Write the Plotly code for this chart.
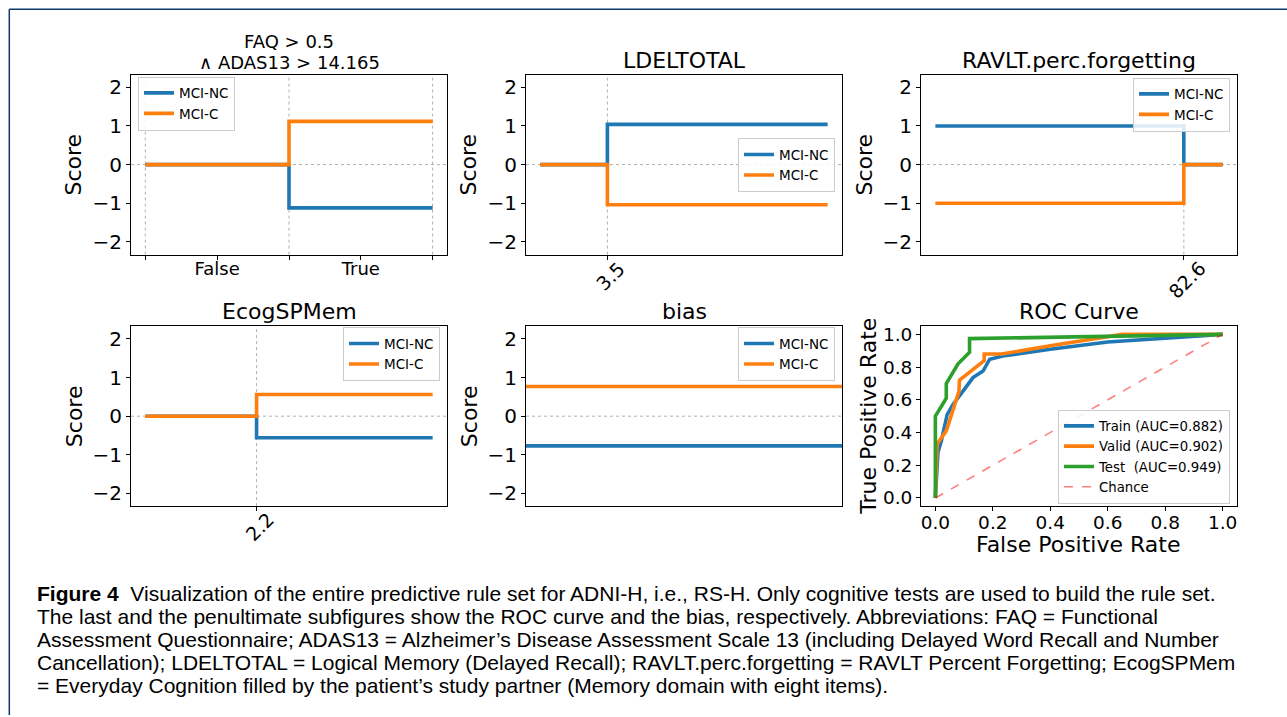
import plotly.graph_objects as go

W, H = 1287, 717
BLUE = '#1f77b4'
ORANGE = '#ff7f0e'
GREEN = '#2ca02c'
FONT = 'DejaVu Sans'
CAP_FONT = 'Liberation Sans'

# ---------------- data ----------------
faq_x = [0, 2, 4]
faq_nc = [0, -1.12, -1.12]
faq_c = [0, 1.12, 1.12]
faq_tickvals = [0, 1, 2, 3, 4]
faq_ticktext = ['', 'False', '', 'True', '']
faq_grid = [0, 2, 4]

ldel_x = [0, 3.5, 15]
ldel_nc = [0, 1.04, 1.04]
ldel_c = [0, -1.04, -1.04]
ldel_thr = [3.5]

ravlt_x = [0, 82.6, 95.5]
ravlt_nc = [1.0, 0, 0]
ravlt_c = [-1.0, 0, 0]
ravlt_thr = [82.6]

ecog_x = [1.0, 2.2, 4.1]
ecog_nc = [0, -0.56, -0.56]
ecog_c = [0, 0.56, 0.56]
ecog_thr = [2.2]

bias_x = [0, 1]
bias_nc = [-0.77, -0.77]
bias_c = [0.77, 0.77]

train_fpr = [0, 0.009, 0.021, 0.041, 0.061, 0.131, 0.166, 0.189, 0.235, 0.4, 0.6, 0.8, 1.0]
train_tpr = [0, 0.28, 0.35, 0.51, 0.57, 0.736, 0.776, 0.848, 0.868, 0.909, 0.953, 0.974, 1.0]
valid_fpr = [0, 0.006, 0.038, 0.065, 0.082, 0.084, 0.17, 0.17, 0.23, 0.4, 0.65, 1.0]
valid_tpr = [0, 0.33, 0.41, 0.55, 0.65, 0.72, 0.84, 0.88, 0.88, 0.93, 1.0, 1.0]
test_fpr = [0, 0, 0.038, 0.038, 0.079, 0.119, 0.119, 1.0]
test_tpr = [0, 0.5, 0.61, 0.70, 0.82, 0.89, 0.974, 1.0]
chance = [0, 1]
roc_names = ['Train (AUC=0.882)', 'Valid (AUC=0.902)', 'Test\u00a0 (AUC=0.949)', 'Chance']

score_ticks = [-2, -1, 0, 1, 2]
roc_ticks = [0, 0.2, 0.4, 0.6, 0.8, 1.0]

caption_lines = [
    '<b>Figure 4</b>  Visualization of the entire predictive rule set for ADNI-H, i.e., RS-H. Only cognitive tests are used to build the rule set.',
    'The last and the penultimate subfigures show the ROC curve and the bias, respectively. Abbreviations: FAQ = Functional',
    'Assessment Questionnaire; ADAS13 = Alzheimer\u2019s Disease Assessment Scale 13 (including Delayed Word Recall and Number',
    'Cancellation); LDELTOTAL = Logical Memory (Delayed Recall); RAVLT.perc.forgetting = RAVLT Percent Forgetting; EcogSPMem',
    '= Everyday Cognition filled by the patient\u2019s study partner (Memory domain with eight items).',
]

# ---------------- layout helpers ----------------
def px_x(p):
    return p / W

def px_y(p):
    return 1 - p / H

cols = [(131, 447), (526, 842), (921, 1237)]
rows = [(73, 254), (326, 507)]

fig = go.Figure()
LW = 3.6

def step_pair(i, x, nc, c, shape='hv'):
    leg = 'legend' if i == 1 else f'legend{i}'
    xa = 'x' if i == 1 else f'x{i}'
    ya = 'y' if i == 1 else f'y{i}'
    fig.add_trace(go.Scatter(x=x, y=nc, mode='lines', line=dict(color=BLUE, width=LW, shape=shape),
                             name='MCI-NC', legend=leg, xaxis=xa, yaxis=ya))
    fig.add_trace(go.Scatter(x=x, y=c, mode='lines', line=dict(color=ORANGE, width=LW, shape=shape),
                             name='MCI-C', legend=leg, xaxis=xa, yaxis=ya))

step_pair(1, faq_x, faq_nc, faq_c)
step_pair(2, ldel_x, ldel_nc, ldel_c)
step_pair(3, ravlt_x, ravlt_nc, ravlt_c)
step_pair(4, ecog_x, ecog_nc, ecog_c)
step_pair(5, bias_x, bias_nc, bias_c)

for fx, ty, col, nm in [(train_fpr, train_tpr, BLUE, roc_names[0]),
                        (valid_fpr, valid_tpr, ORANGE, roc_names[1]),
                        (test_fpr, test_tpr, GREEN, roc_names[2])]:
    fig.add_trace(go.Scatter(x=fx, y=ty, mode='lines', line=dict(color=col, width=LW),
                             name=nm, legend='legend6', xaxis='x6', yaxis='y6'))
fig.add_trace(go.Scatter(x=chance, y=chance, mode='lines',
                         line=dict(color='rgba(255,0,0,0.5)', width=1.6, dash='dash'),
                         name=roc_names[3], legend='legend6', xaxis='x6', yaxis='y6'))

axis_base = dict(showline=True, mirror=True, linecolor='black', linewidth=1, showgrid=False,
                 zeroline=False, ticks='outside', ticklen=4, tickcolor='black', tickwidth=1)

layout = dict(width=W, height=H, margin=dict(l=0, r=0, t=0, b=0),
              paper_bgcolor='white', plot_bgcolor='white',
              font=dict(family=FONT, color='black'))

def rng(xs):
    span = xs[-1] - xs[0]
    return [xs[0] - 0.05 * span, xs[-1] + 0.05 * span]

xcfg = {
    1: dict(range=rng(faq_x), tickvals=faq_tickvals, ticktext=faq_ticktext, tickfont=dict(size=18),
            ticklabelstandoff=-6),
    2: dict(range=rng(ldel_x), tickvals=ldel_thr, showticklabels=False),
    3: dict(range=rng(ravlt_x), tickvals=ravlt_thr, showticklabels=False),
    4: dict(range=rng(ecog_x), tickvals=ecog_thr, showticklabels=False),
    5: dict(range=[bias_x[0], bias_x[-1]], showticklabels=False, ticks=''),
    6: dict(range=[-0.05, 1.05], tickvals=roc_ticks, tickformat='.1f', tickfont=dict(size=18.5),
            ticklabelstandoff=-4),
}

for i in range(1, 7):
    r = 0 if i <= 3 else 1
    c = (i - 1) % 3
    x0, x1 = cols[c]
    y0, y1 = rows[r]
    xk = 'xaxis' if i == 1 else f'xaxis{i}'
    yk = 'yaxis' if i == 1 else f'yaxis{i}'
    xa = 'x' if i == 1 else f'x{i}'
    ya = 'y' if i == 1 else f'y{i}'
    xd = dict(axis_base, domain=[px_x(x0), px_x(x1)], anchor=ya)
    xd.update(xcfg[i])
    layout[xk] = xd
    if i < 6:
        yd = dict(axis_base, domain=[px_y(y1), px_y(y0)], anchor=xa, range=[-2.33, 2.33],
                  tickvals=score_ticks, tickfont=dict(size=20))
    else:
        yd = dict(axis_base, domain=[px_y(y1), px_y(y0)], anchor=xa, range=[-0.05, 1.05],
                  tickvals=roc_ticks, tickformat='.1f', tickfont=dict(size=18.5))
    layout[yk] = yd

# legends
leg_base = dict(bgcolor='rgba(255,255,255,0.85)', bordercolor='#cccccc', borderwidth=1,
                font=dict(family=FONT, size=13.5), itemwidth=30, tracegroupgap=0)
LEG_DY = 6
layout['legend'] = dict(leg_base, x=px_x(138), y=px_y(81 - LEG_DY), xanchor='left', yanchor='top')
layout['legend2'] = dict(leg_base, x=px_x(835), y=px_y(143 - LEG_DY), xanchor='right', yanchor='top')
layout['legend3'] = dict(leg_base, x=px_x(1230), y=px_y(82 - LEG_DY), xanchor='right', yanchor='top')
layout['legend4'] = dict(leg_base, x=px_x(440), y=px_y(333 - LEG_DY), xanchor='right', yanchor='top')
layout['legend5'] = dict(leg_base, x=px_x(835), y=px_y(333 - LEG_DY), xanchor='right', yanchor='top')
layout['legend6'] = dict(leg_base, x=px_x(1230), y=px_y(416 - LEG_DY), xanchor='right', yanchor='top')
layout['legend6']['font'] = dict(family=FONT, size=13.3)

# gridlines (dotted)
shapes = []
GRID = dict(color='#b0b0b0', width=1, dash='dot')
def vgrid(i, xs):
    xa = 'x' if i == 1 else f'x{i}'
    ya = 'y' if i == 1 else f'y{i}'
    for v in xs:
        shapes.append(dict(type='line', xref=xa, yref=f'{ya} domain', x0=v, x1=v, y0=0, y1=1,
                           line=GRID, layer='below'))
def hzero(i):
    xa = 'x' if i == 1 else f'x{i}'
    ya = 'y' if i == 1 else f'y{i}'
    shapes.append(dict(type='line', xref=f'{xa} domain', yref=ya, x0=0, x1=1, y0=0, y1=0,
                       line=GRID, layer='below'))
vgrid(1, faq_grid); vgrid(2, ldel_thr); vgrid(3, ravlt_thr); vgrid(4, ecog_thr)
for i in range(1, 6):
    hzero(i)

# page frame
FR = dict(color='#0d3a6a', width=1.5)
shapes.append(dict(type='line', xref='paper', yref='paper', x0=px_x(9.3), x1=1, y0=px_y(7.3), y1=px_y(7.3), line=FR))
shapes.append(dict(type='line', xref='paper', yref='paper', x0=px_x(9.3), x1=px_x(9.3), y0=0, y1=px_y(7.3), line=FR))
layout['shapes'] = shapes

ann = []
def text(t, x, y, size, xanchor='center', yanchor='middle', angle=0):
    ann.append(dict(text=t, x=px_x(x), y=px_y(y), xref='paper', yref='paper', showarrow=False,
                    xanchor=xanchor, yanchor=yanchor, textangle=angle,
                    font=dict(family=FONT, size=size, color='black')))

# rotated threshold tick labels (matplotlib-style centred under the tick)
for i, thr in [(2, ldel_thr), (3, ravlt_thr), (4, ecog_thr)]:
    r = 0 if i <= 3 else 1
    for v in thr:
        ann.append(dict(text=str(v), x=v, xref=f'x{i}', y=px_y(rows[r][1] + 3), yref='paper',
                        showarrow=False, xanchor='center', yanchor='top', textangle=-45,
                        xshift=3, yshift=3,
                        font=dict(family=FONT, size=19, color='black')))

# titles
text('FAQ &gt; 0.5', 289, 52, 18, yanchor='bottom')
text('\u2227 ADAS13 &gt; 14.165', 289, 73, 18, yanchor='bottom')
text('LDELTOTAL', 684, 73, 22, yanchor='bottom')
text('RAVLT.perc.forgetting', 1079, 73, 22, yanchor='bottom')
text('EcogSPMem', 289, 326, 22, yanchor='bottom')
text('bias', 684, 326, 22, yanchor='bottom')
text('ROC Curve', 1079, 326, 22, yanchor='bottom')

# y labels
for (x, y) in [(74, 163.5), (469, 163.5), (865, 163.5), (74, 416.5), (469, 416.5)]:
    text('Score', x, y, 22, angle=-90)
text('True Positive Rate', 869, 417, 22, angle=-90)
text('False Positive Rate', 1078, 546, 22)

# caption
cap_y = [595, 618, 641, 664.5, 687]
for t, y in zip(caption_lines, cap_y):
    ann.append(dict(text=t, x=px_x(35), y=px_y(y), xref='paper', yref='paper', showarrow=False,
                    xanchor='left', yanchor='middle', align='left',
                    font=dict(family=CAP_FONT, size=21, color='black')))
layout['annotations'] = ann

fig.update_layout(**layout)
fig.write_html('out.html')
